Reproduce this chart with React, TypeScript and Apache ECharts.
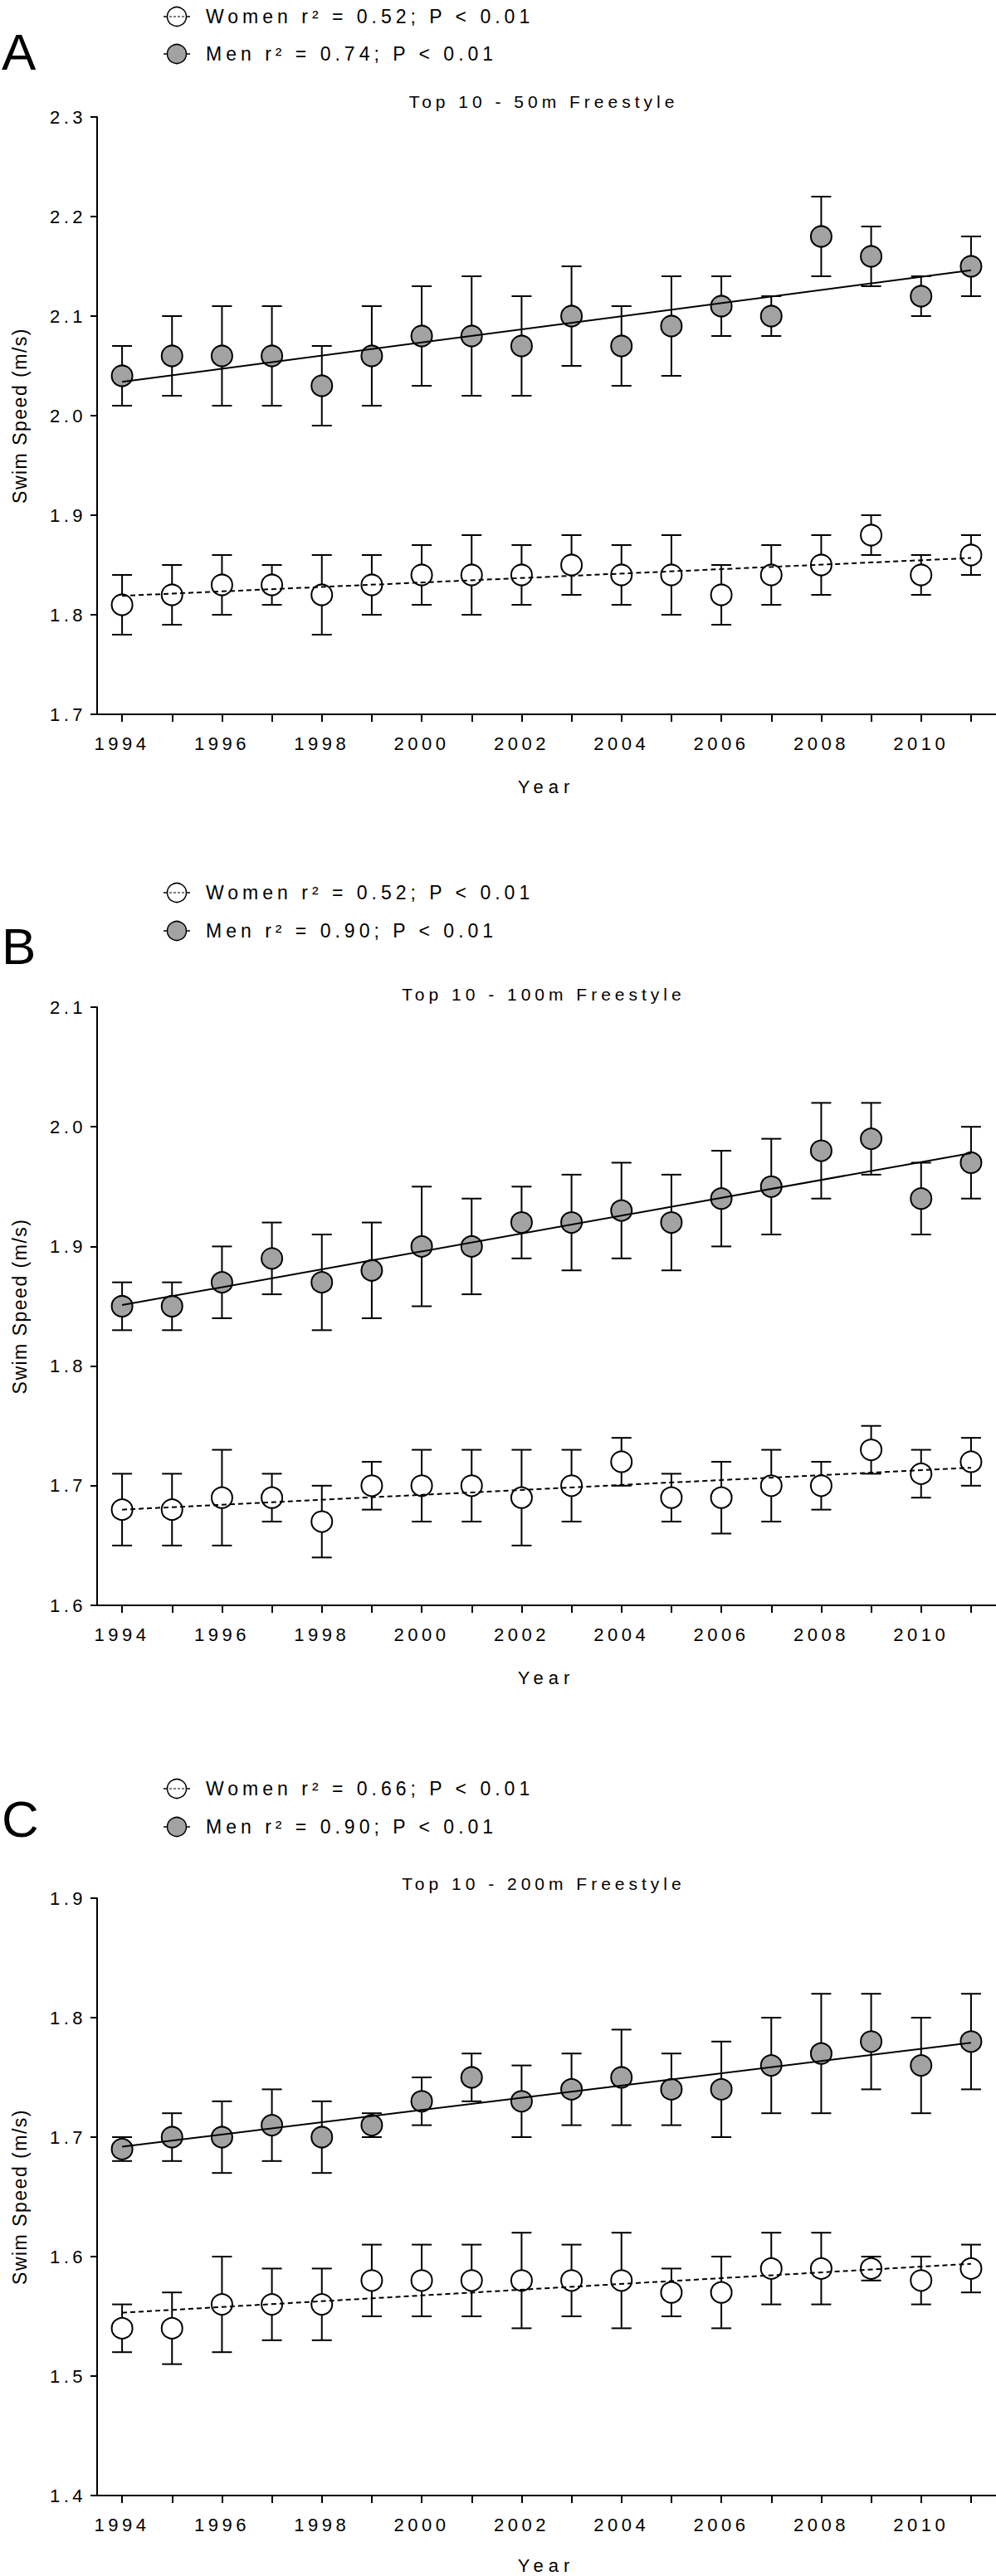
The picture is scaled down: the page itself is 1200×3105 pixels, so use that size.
import React, { useEffect, useRef } from "react";
import * as echarts from "echarts";

const years = ["1994","1995","1996","1997","1998","1999","2000","2001","2002","2003","2004","2005","2006","2007","2008","2009","2010","2011"];

// Panel A – 50 m freestyle
const aMenMean = [2.04,2.06,2.06,2.06,2.03,2.06,2.08,2.08,2.07,2.10,2.07,2.09,2.11,2.10,2.18,2.16,2.12,2.15];
const aMenLow = [2.01,2.02,2.01,2.01,1.99,2.01,2.03,2.02,2.02,2.05,2.03,2.04,2.08,2.08,2.14,2.13,2.10,2.12];
const aMenHigh = [2.07,2.10,2.11,2.11,2.07,2.11,2.13,2.14,2.12,2.15,2.11,2.14,2.14,2.12,2.22,2.19,2.14,2.18];
const aWomenMean = [1.81,1.82,1.83,1.83,1.82,1.83,1.84,1.84,1.84,1.85,1.84,1.84,1.82,1.84,1.85,1.88,1.84,1.86];
const aWomenLow = [1.78,1.79,1.80,1.81,1.78,1.80,1.81,1.80,1.81,1.82,1.81,1.80,1.79,1.81,1.82,1.86,1.82,1.84];
const aWomenHigh = [1.84,1.85,1.86,1.85,1.86,1.86,1.87,1.88,1.87,1.88,1.87,1.88,1.85,1.87,1.88,1.90,1.86,1.88];
const aMenFit = [2.034, 2.146];
const aWomenFit = [1.819, 1.857];

// Panel B – 100 m freestyle
const bMenMean = [1.85,1.85,1.87,1.89,1.87,1.88,1.90,1.90,1.92,1.92,1.93,1.92,1.94,1.95,1.98,1.99,1.94,1.97];
const bMenLow = [1.83,1.83,1.84,1.86,1.83,1.84,1.85,1.86,1.89,1.88,1.89,1.88,1.90,1.91,1.94,1.96,1.91,1.94];
const bMenHigh = [1.87,1.87,1.90,1.92,1.91,1.92,1.95,1.94,1.95,1.96,1.97,1.96,1.98,1.99,2.02,2.02,1.97,2.00];
const bWomenMean = [1.68,1.68,1.69,1.69,1.67,1.70,1.70,1.70,1.69,1.70,1.72,1.69,1.69,1.70,1.70,1.73,1.71,1.72];
const bWomenLow = [1.65,1.65,1.65,1.67,1.64,1.68,1.67,1.67,1.65,1.67,1.70,1.67,1.66,1.67,1.68,1.71,1.69,1.70];
const bWomenHigh = [1.71,1.71,1.73,1.71,1.70,1.72,1.73,1.73,1.73,1.73,1.74,1.71,1.72,1.73,1.72,1.75,1.73,1.74];
const bMenFit = [1.851, 1.978];
const bWomenFit = [1.680, 1.715];

// Panel C – 200 m freestyle
const cMenMean = [1.69,1.70,1.70,1.71,1.70,1.71,1.73,1.75,1.73,1.74,1.75,1.74,1.74,1.76,1.77,1.78,1.76,1.78];
const cMenLow = [1.68,1.68,1.67,1.68,1.67,1.70,1.71,1.73,1.70,1.71,1.71,1.71,1.70,1.72,1.72,1.74,1.72,1.74];
const cMenHigh = [1.70,1.72,1.73,1.74,1.73,1.72,1.75,1.77,1.76,1.77,1.79,1.77,1.78,1.80,1.82,1.82,1.80,1.82];
const cWomenMean = [1.54,1.54,1.56,1.56,1.56,1.58,1.58,1.58,1.58,1.58,1.58,1.57,1.57,1.59,1.59,1.59,1.58,1.59];
const cWomenLow = [1.52,1.51,1.52,1.53,1.53,1.55,1.55,1.55,1.54,1.55,1.54,1.55,1.54,1.56,1.56,1.58,1.56,1.57];
const cWomenHigh = [1.56,1.57,1.60,1.59,1.59,1.61,1.61,1.61,1.62,1.61,1.62,1.59,1.60,1.62,1.62,1.60,1.60,1.61];
const cMenFit = [1.692, 1.779];
const cWomenFit = [1.553, 1.594];

const panelLetters = ["A", "B", "C"];
const titles = ["Top 10 - 50m Freestyle", "Top 10 - 100m Freestyle", "Top 10 - 200m Freestyle"];
const womenLegend = ["Women r² = 0.52; P < 0.01", "Women r² = 0.52; P < 0.01", "Women r² = 0.66; P < 0.01"];
const menLegend = ["Men r² = 0.74; P < 0.01", "Men r² = 0.90; P < 0.01", "Men r² = 0.90; P < 0.01"];
const yMins = [1.7, 1.6, 1.4];
const yMaxs = [2.3, 2.1, 1.9];
const yAxisTitle = "Swim Speed (m/s)";
const xAxisTitle = "Year";

const panels = [
  { menMean: aMenMean, menLow: aMenLow, menHigh: aMenHigh, womenMean: aWomenMean, womenLow: aWomenLow, womenHigh: aWomenHigh, menFit: aMenFit, womenFit: aWomenFit },
  { menMean: bMenMean, menLow: bMenLow, menHigh: bMenHigh, womenMean: bWomenMean, womenLow: bWomenLow, womenHigh: bWomenHigh, menFit: bMenFit, womenFit: bWomenFit },
  { menMean: cMenMean, menLow: cMenLow, menHigh: cMenHigh, womenMean: cWomenMean, womenLow: cWomenLow, womenHigh: cWomenHigh, menFit: cMenFit, womenFit: cWomenFit },
];

// layout (pixels)
const layout = [
  { top: 141, height: 720, women: 20, men: 65, letter: 62, title: 122, year: 948 },
  { top: 1214, height: 721, women: 1076, men: 1122, letter: 1140, title: 1198, year: 2022 },
  { top: 2288, height: 720, women: 2156, men: 2202, letter: 2192, title: 2270, year: 3092 },
];

const FONT = "'Liberation Sans', Arial, Helvetica, sans-serif";
const GRID_LEFT = 117;
const MEN_FILL = "#a2a2a2";

function errorBarRender(params: any, api: any) {
  const x = api.value(0);
  const lo = api.coord([x, api.value(1)]);
  const hi = api.coord([x, api.value(2)]);
  const hw = 12;
  const st = { stroke: "#000", lineWidth: 2 };
  return {
    type: "group",
    children: [
      { type: "line", shape: { x1: lo[0], y1: lo[1], x2: hi[0], y2: hi[1] }, style: st },
      { type: "line", shape: { x1: hi[0] - hw, y1: hi[1], x2: hi[0] + hw, y2: hi[1] }, style: st },
      { type: "line", shape: { x1: lo[0] - hw, y1: lo[1], x2: lo[0] + hw, y2: lo[1] }, style: st },
    ],
  };
}

function buildOption() {
  const grid: any[] = [];
  const xAxis: any[] = [];
  const yAxis: any[] = [];
  const series: any[] = [];
  const graphic: any[] = [];

  panels.forEach((p, i) => {
    const L = layout[i];
    grid.push({ left: GRID_LEFT, right: 0, top: L.top, height: L.height, containLabel: false });
    xAxis.push({
      type: "category",
      gridIndex: i,
      data: years,
      boundaryGap: true,
      axisLine: { show: true, onZero: false, lineStyle: { color: "#000", width: 2 } },
      axisTick: { show: true, alignWithLabel: true, interval: 0, length: 9, lineStyle: { color: "#000", width: 2 } },
      axisLabel: { interval: 1, margin: 24, fontSize: 22, color: "#000", fontFamily: FONT },
      splitLine: { show: false },
    });
    yAxis.push({
      type: "value",
      gridIndex: i,
      min: yMins[i],
      max: yMaxs[i],
      interval: 0.1,
      name: yAxisTitle,
      nameLocation: "middle",
      nameRotate: 90,
      nameGap: 82,
      nameTextStyle: { fontSize: 23, fontFamily: FONT, color: "#000" },
      axisLine: { show: true, onZero: false, lineStyle: { color: "#000", width: 2 } },
      axisTick: { show: true, length: 8, lineStyle: { color: "#000", width: 2 } },
      axisLabel: { margin: 13, fontSize: 22, color: "#000", fontFamily: FONT, formatter: (v: number) => v.toFixed(1) },
      splitLine: { show: false },
    });

    const groups = [
      { mean: p.womenMean, low: p.womenLow, high: p.womenHigh, fit: p.womenFit, fill: "#ffffff", dash: [6, 4] as any },
      { mean: p.menMean, low: p.menLow, high: p.menHigh, fit: p.menFit, fill: MEN_FILL, dash: "solid" as any },
    ];
    groups.forEach((g) => {
      series.push({
        type: "custom",
        xAxisIndex: i,
        yAxisIndex: i,
        silent: true,
        z: 1,
        renderItem: errorBarRender,
        encode: { x: 0, y: [1, 2] },
        data: years.map((_, k) => [k, g.low[k], g.high[k]]),
      });
      series.push({
        type: "scatter",
        xAxisIndex: i,
        yAxisIndex: i,
        silent: true,
        z: 2,
        symbol: "circle",
        symbolSize: 25,
        itemStyle: { color: g.fill, borderColor: "#000", borderWidth: 2, opacity: 1 },
        data: g.mean,
      });
      series.push({
        type: "line",
        xAxisIndex: i,
        yAxisIndex: i,
        silent: true,
        z: 3,
        showSymbol: false,
        symbol: "none",
        lineStyle: { color: "#000", width: 2, type: g.dash },
        data: [[years[0], g.fit[0]], [years[years.length - 1], g.fit[1]]],
      });
    });

    // panel letter
    graphic.push({
      type: "text", x: 2, y: L.letter, silent: true,
      style: { text: panelLetters[i], fontSize: 62, fontFamily: FONT, fill: "#000", align: "left", verticalAlign: "middle" },
    });
    // legend icons
    const ix = 213;
    graphic.push({
      type: "group", silent: true,
      children: [
        { type: "line", shape: { x1: ix - 16, y1: L.women, x2: ix + 16, y2: L.women }, style: { stroke: "#000", lineWidth: 1.5 } },
        { type: "circle", shape: { cx: ix, cy: L.women, r: 11.5 }, style: { fill: "#fff", stroke: "#000", lineWidth: 1.5 } },
        { type: "line", shape: { x1: ix - 9, y1: L.women, x2: ix + 9, y2: L.women }, style: { stroke: "#000", lineWidth: 1.2, lineDash: [3, 2] } },
        { type: "line", shape: { x1: ix - 16, y1: L.men, x2: ix + 16, y2: L.men }, style: { stroke: "#000", lineWidth: 1.5 } },
        { type: "circle", shape: { cx: ix, cy: L.men, r: 11.5 }, style: { fill: MEN_FILL, stroke: "#000", lineWidth: 1.5 } },
      ],
    });
    graphic.push({
      type: "text", x: 248, y: L.women, silent: true,
      style: { text: womenLegend[i], fontSize: 23, fontFamily: FONT, fill: "#000", align: "left", verticalAlign: "middle" },
    });
    graphic.push({
      type: "text", x: 248, y: L.men, silent: true,
      style: { text: menLegend[i], fontSize: 23, fontFamily: FONT, fill: "#000", align: "left", verticalAlign: "middle" },
    });
    // title
    graphic.push({
      type: "text", x: 655, y: L.title, silent: true,
      style: { text: titles[i], fontSize: 21, fontFamily: FONT, fill: "#000", align: "center", verticalAlign: "middle" },
    });
    // x axis title
    graphic.push({
      type: "text", x: 658, y: L.year, silent: true,
      style: { text: xAxisTitle, fontSize: 22, fontFamily: FONT, fill: "#000", align: "center", verticalAlign: "middle" },
    });
  });

  return {
    animation: false,
    backgroundColor: "#ffffff",
    textStyle: { fontFamily: FONT },
    grid,
    xAxis,
    yAxis,
    series,
    graphic,
  };
}

export default function App() {
  const ref = useRef<HTMLDivElement>(null);
  useEffect(() => {
    if (!ref.current) return;
    const chart = echarts.init(ref.current, null, { renderer: "svg" });
    chart.setOption(buildOption() as any);
    const texts = ref.current.querySelectorAll("text");
    texts.forEach((t) => {
      const s = t.textContent || "";
      if (s.indexOf("Swim") === 0) (t as any).style.letterSpacing = "1.5px";
      else if (s.indexOf("Top 10") === 0) (t as any).style.letterSpacing = "5px";
      else if (s.indexOf("Women") === 0 || s.indexOf("Men") === 0) (t as any).style.letterSpacing = "5px";
      else if (s === "Year") (t as any).style.letterSpacing = "6px";
    });
    return () => chart.dispose();
  }, []);
  return (
    <div
      ref={ref}
      style={{ position: "absolute", left: 0, top: 0, width: 1200, height: 3105, letterSpacing: "4.5px", background: "#fff" }}
    />
  );
}
